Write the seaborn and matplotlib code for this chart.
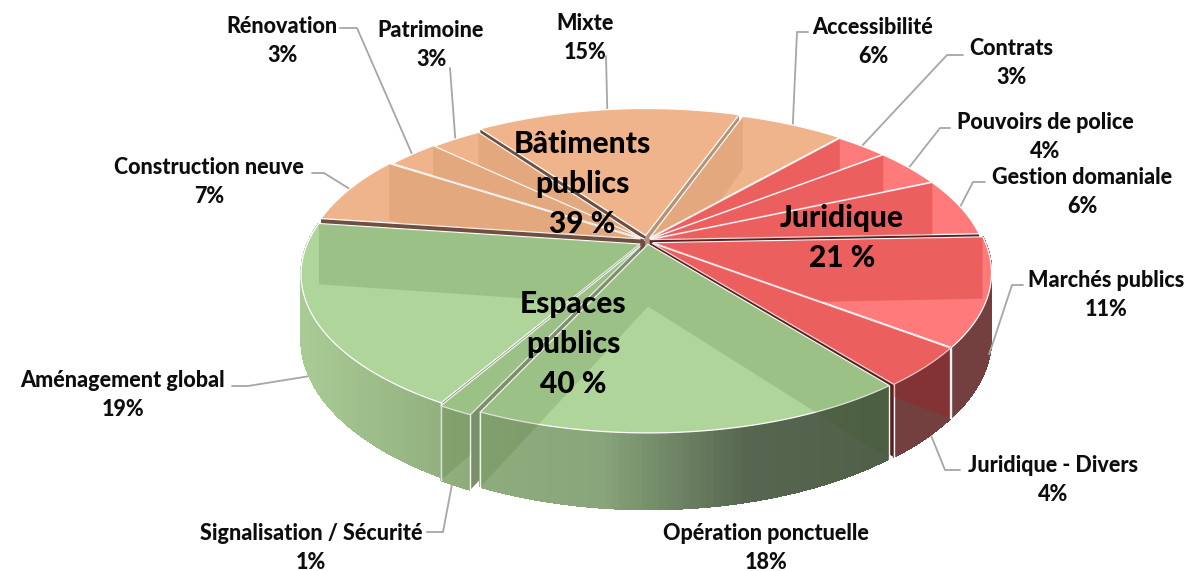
import numpy as np
import pandas as pd
import seaborn as sns
import matplotlib
matplotlib.use("Agg")
import matplotlib.pyplot as plt
from matplotlib.patches import Polygon

sns.set_theme(style="white")
plt.rcParams["font.family"] = ["Lato", "DejaVu Sans"]

# clockwise from the Mixte / Accessibilite boundary
categories = ["Accessibilité", "Contrats", "Pouvoirs de police", "Gestion domaniale",
              "Marchés publics", "Juridique - Divers", "Opération ponctuelle",
              "Signalisation / Sécurité", "Aménagement global", "Construction neuve",
              "Rénovation", "Patrimoine", "Mixte"]
# shares, printed labels are rounded
values = [6, 3, 4, 6, 11, 4, 17.5, 1.4, 18.9, 7, 3, 3, 15.2]
printed = [6, 3, 4, 6, 11, 4, 18, 1, 19, 7, 3, 3, 15]
groups = ["bat", "jur", "jur", "jur", "jur", "jur", "esp", "esp", "esp", "bat", "bat", "bat", "bat"]

group_titles = ["Bâtiments\npublics\n39 %", "Juridique\n21 %", "Espaces\npublics\n40 %"]

# layout, in pixels of the output image
W, H = 1189, 571
CX, CY, RX, RY, K, DEPTH = 647, 240, 331, 152, 0.185, 62
START = 19.4
EXPLODE = [0.018, 0.012, 0.012, 0.012, 0.02, 0.022, 0.028, 0.045, 0.024, 0.022, 0.012, 0.012, 0.03]
# extra downward shift, widens the dark gap above some slices
SHIFT_DOWN = [0, 0, 0, 0, 0.012, 0.006, 0, 0, 0.016, 0, 0, 0.01, 0]
LABEL_XY = [(873, 42), (1011, 63), (1045, 137), (1082, 192), (1106, 295), (1053, 480), (766, 548),
            (311, 548), (123, 395), (209, 182), (282, 41), (431, 45), (585, 38)]
LEADER = [[(808, 32), (797, 32)], [(963, 55), (947, 55)], [(950, 128), (940, 128)], [(985, 182), (973, 182)],
          [(1023, 285), (1012, 285)], [(960, 470), (945, 470)], None,
          [(427, 532), (443, 532)], [(232, 386), (248, 386)], [(312, 173), (324, 173)],
          [(340, 28), (357, 28)], [(450, 68)], [(606, 56)]]
LEADER_DROP = [0, 0, 0, 0, 0.95, 0.75, 0, 0.75, 0.85, 0, 0, 0, 0]
TITLE_XY = [(582, 184), (842, 238), (573, 344)]

TOP = {"bat": "#f0b48c", "jur": "#ff7a7a", "esp": "#b0d59b"}
RADIAL = {"bat": "#6f5040", "jur": "#5c2020", "esp": "#7c8f6c"}
OVER = {"bat": "#a0602a", "jur": "#b31212", "esp": "#3f5f20"}
OVER_ALPHA = {"bat": 0.14, "jur": 0.25, "esp": 0.17}

green_wall = sns.blend_palette(["#a8ca94", "#8fae7c", "#88a67b", "#566650", "#4f5f48"], 100)


def project(theta, r=1.0, ox=0.0, oy=0.0, drop=0.0):
    t = np.radians(theta)
    x = r * np.sin(t) + ox
    y = r * np.cos(t) + oy
    p = 1 + K * y
    return np.column_stack([CX + RX * x / p, CY - RY * y / p + drop * DEPTH / p])


def wall_colour(group, sx):
    if group == "esp":
        i = int(np.clip((sx - 302) / (890 - 302) * 99, 0, 99))
        return green_wall[i]
    if group == "jur":
        return "#733f3f"
    return "#b98f70"


df = pd.DataFrame({"name": categories, "value": values, "printed": printed, "group": groups})
df["end"] = START + df["value"].cumsum() * 3.6
df["start"] = df["end"] - df["value"] * 3.6
df["mid"] = (df["start"] + df["end"]) / 2
df["explode"] = EXPLODE
df["ox"] = df["explode"] * np.sin(np.radians(df["mid"]))
df["oy"] = df["explode"] * np.cos(np.radians(df["mid"])) - np.array(SHIFT_DOWN)

fig = plt.figure(figsize=(W / 100, H / 100), dpi=100)
ax = fig.add_axes([0, 0, 1, 1])
ax.set_xlim(0, W)
ax.set_ylim(H, 0)
ax.axis("off")

# leader lines go under the pie, the Marches publics one runs over its wall
for i, row in df.iterrows():
    if LEADER[i] is None:
        continue
    end = project(row["mid"], 1.0, row["ox"], row["oy"], LEADER_DROP[i])[0]
    pts = np.array(LEADER[i] + [tuple(end)])
    ax.plot(pts[:, 0], pts[:, 1], color="#a6a6a6", lw=1.3, zorder=500 if row["name"] == "Marchés publics" else 1)

# far slices first
order = df.assign(depth=np.cos(np.radians(df["mid"]))).sort_values("depth", ascending=False).index
z = 2
for i in order:
    row = df.loc[i]
    g = row["group"]
    o = (row["ox"], row["oy"])
    arc = np.linspace(row["start"], row["end"], max(int(row["value"] * 12), 12))
    rim = project(arc, 1.0, *o)
    low = project(arc, 1.0, *o, drop=1.0)
    apex = project(0, 0.0, *o)[0]
    apex_low = project(0, 0.0, *o, drop=1.0)[0]

    # radial walls, seen in the gaps between slices
    ax.add_patch(Polygon([apex, rim[0], low[0], apex_low], fc=RADIAL[g], ec="none", zorder=z))
    end_fc = "#b39478" if row["name"] == "Mixte" else RADIAL[g]
    ax.add_patch(Polygon([apex, rim[-1], low[-1], apex_low], fc=end_fc, ec="none", zorder=z))
    z += 1

    # outer wall in thin strips for the left to right shading
    front = np.cos(np.radians(row["mid"])) < 0
    if front:
        for k in range(len(arc) - 1):
            c = wall_colour(g, (rim[k, 0] + rim[k + 1, 0]) / 2)
            ax.add_patch(Polygon([rim[k], rim[k + 1], low[k + 1], low[k]], fc=c, ec=c, lw=0.6,
                                 antialiased=False, zorder=z))
        z += 1
        for a, b in [(rim[0], low[0]), (rim[-1], low[-1])]:
            ax.plot([a[0], b[0]], [a[1], b[1]], color="white", lw=1.0, zorder=z)

    top = np.vstack([apex, rim])
    top_patch = Polygon(top, fc=TOP[g], ec="white", lw=0.9, joinstyle="round", zorder=z + 1)
    ax.add_patch(top_patch)
    z += 2

    # radial walls showing through the glassy top
    if front:
        outline = np.vstack([[apex], [rim[0]], low, [rim[-1]]])
    else:
        outline = top
    clip = Polygon(outline, transform=ax.transData, fc="none", ec="none")
    ax.add_patch(clip)
    for a, b in [(rim[0], low[0]), (rim[-1], low[-1])]:
        over = Polygon([apex, a, b, apex_low], fc=OVER[g], ec="none", alpha=OVER_ALPHA[g], zorder=z)
        ax.add_patch(over)
        over.set_clip_path(clip)
    z += 1

for i, row in df.iterrows():
    ax.text(LABEL_XY[i][0], LABEL_XY[i][1], f"{row['name']}\n{row['printed']}%", ha="center", va="center",
            fontsize=15.5, fontweight=900, color="#0d0d0d", linespacing=1.48, zorder=600)

for title, (x, y) in zip(group_titles, TITLE_XY):
    ax.text(x, y, title, ha="center", va="center", fontsize=21.5, fontweight=900, color="#000000",
            linespacing=1.53, zorder=601)

fig.savefig("out.png", dpi=100, facecolor="white")
